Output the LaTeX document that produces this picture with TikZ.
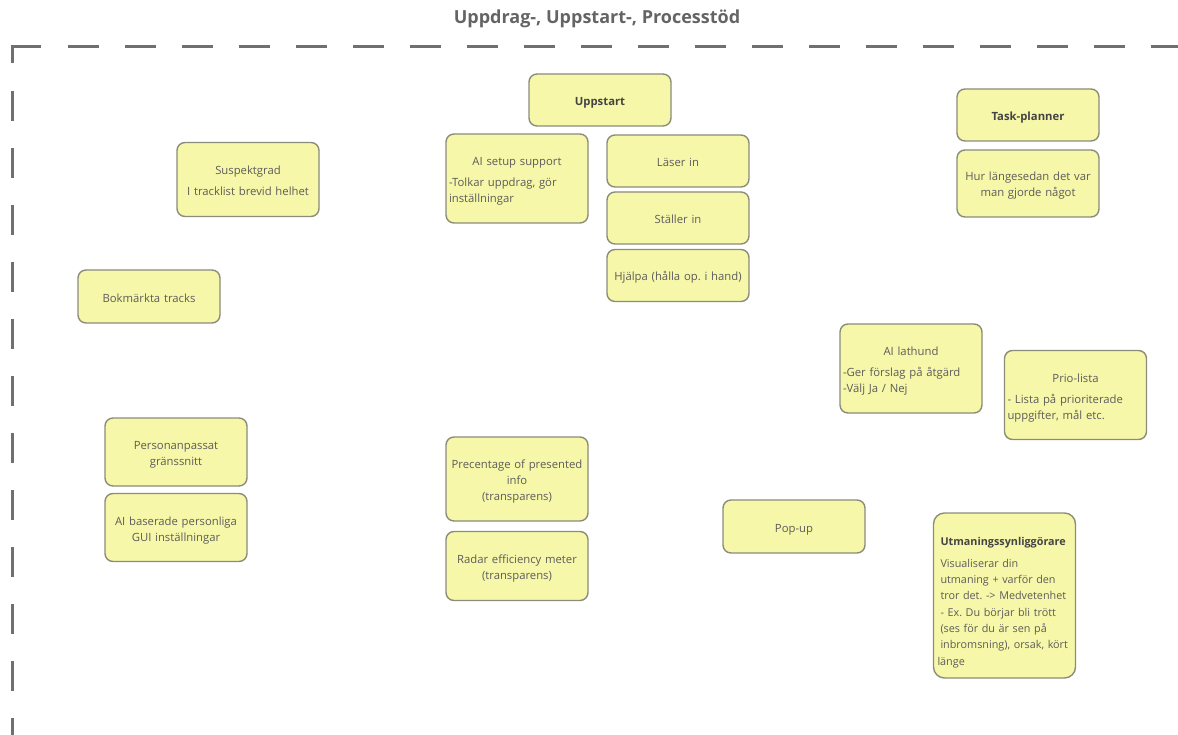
\documentclass[tikz,border=0pt]{standalone}
\usepackage{fontspec}
\setmainfont{Open Sans}
\frenchspacing

\definecolor{cardfill}{RGB}{246,247,168}
\definecolor{cardline}{RGB}{140,140,122}
\definecolor{cardtext}{RGB}{92,92,92}
\definecolor{headtext}{RGB}{68,68,68}
\definecolor{frameline}{RGB}{112,112,112}
\definecolor{titletext}{RGB}{100,100,100}

% centred heading line above a ragged-right body
\newcommand{\cardhead}[1]{{\centering #1\par}\vspace{5pt}}
\newcommand{\boldhead}[1]{\textbf{\color{headtext}#1}}
% fixed first-line height and last-line depth, so every card text sits alike
\newcommand{\topstrut}[1]{\rule{0pt}{#1}}
\newcommand{\botstrut}{\rule[-4pt]{0pt}{4pt}}

\begin{document}
\begin{tikzpicture}[x=1pt,y=-1pt,
  card/.style={draw=cardline, fill=cardfill, line width=1.4pt,
    rounded corners=8pt, text=cardtext,
    font=\fontsize{11.3}{16}\selectfont,
    minimum width=142pt, text width=136pt,
    inner xsep=3pt, inner ysep=0pt, align=center,
    execute at begin node={\topstrut{15pt}},
    execute at end node={\botstrut}},
  leftcard/.style={card, align=left},
  frame/.style={draw=frameline, line width=3pt},
  title/.style={font=\fontsize{18}{22}\selectfont\bfseries, text=titletext}
]
\useasboundingbox (0,0) rectangle (1178,735);

% heading
\node[title] (title) at (597,19) {Uppdrag-, Uppstart-, Processtöd};

% dashed frame, open to the right and bottom
\coordinate (corner) at (12,47);
\coordinate (cornerV) at (12,63);
\coordinate (cornerH) at (41,47);
\coordinate (hstart) at (68,47);
\coordinate (hend) at (1178,47);
\coordinate (vstart) at (12,91);
\coordinate (vend) at (12,735);
\draw[frame, line join=miter] (cornerV) -- (corner) -- (cornerH);
\draw[frame, dash pattern=on 31pt off 26pt] (hstart) -- (hend);
\draw[frame, dash pattern=on 30pt off 27pt] (vstart) -- (vend);

% start-up column
\node[card, minimum height=52pt] (uppstart) at (600,100) {\boldhead{Uppstart}};
\node[leftcard, minimum height=89pt] (aisetup) at (517,178.5)
  {\cardhead{AI setup support}-Tolkar uppdrag, gör\\inställningar};
\node[card, minimum height=52pt] (laser) at (678,161) {Läser in};
\node[card, minimum height=52pt] (staller) at (678,218) {Ställer in};
\node[card, minimum height=52pt] (hjalpa) at (678,275.5) {Hjälpa (hålla op. i hand)};

% planning
\node[card, minimum height=52pt] (taskplanner) at (1028,115) {\boldhead{Task-planner}};
\node[card, minimum height=67pt] (hurlange) at (1028,183.5)
  {Hur längesedan det var\\man gjorde något};

% tracks
\node[card, minimum height=74pt] (suspekt) at (248,179.5)
  {Suspektgrad\par\vspace{5pt}I tracklist brevid helhet};
\node[card, minimum height=53pt] (bokmarkta) at (149,296.5) {Bokmärkta tracks};

% help and priorities
\node[leftcard, minimum height=89pt] (lathund) at (911,368.5)
  {\cardhead{AI lathund}-Ger förslag på åtgärd\\-Välj Ja / Nej};
\node[leftcard, minimum height=89pt] (prio) at (1075.5,395)
  {\cardhead{Prio-lista}- Lista på prioriterade\\uppgifter, mål etc.};

% interface
\node[card, minimum height=68pt] (personanp) at (176,452) {Personanpassat\\gränssnitt};
\node[card, minimum height=68pt] (aibaserade) at (176,527.5)
  {AI baserade personliga\\GUI inställningar};

% transparency
\node[card, minimum height=84pt] (precentage) at (517,479)
  {Precentage of presented\\info\\(transparens)};
\node[card, minimum height=69pt] (radar) at (517,566)
  {Radar efficiency meter\\(transparens)};
\node[card, minimum height=53pt] (popup) at (794,526.5) {Pop-up};

% challenge display, its text set a little low in the card
\node[leftcard, minimum height=165pt, text width=134pt, inner xsep=4pt,
  font=\fontsize{10.8}{16.3}\selectfont,
  execute at begin node={\topstrut{24pt}},
  rounded corners=11pt] (utmaning) at (1004.5,595.5)
  {\hspace*{3pt}\boldhead{Utmaningssynliggörare}\par\vspace{5pt}%
   \leftskip=3pt Visualiserar din\\utmaning + varför den\\tror det. -> Medvetenhet\\- Ex. Du börjar bli trött\\(ses för du är sen på\\inbromsning), orsak, kört\\länge};
\end{tikzpicture}
\end{document}
